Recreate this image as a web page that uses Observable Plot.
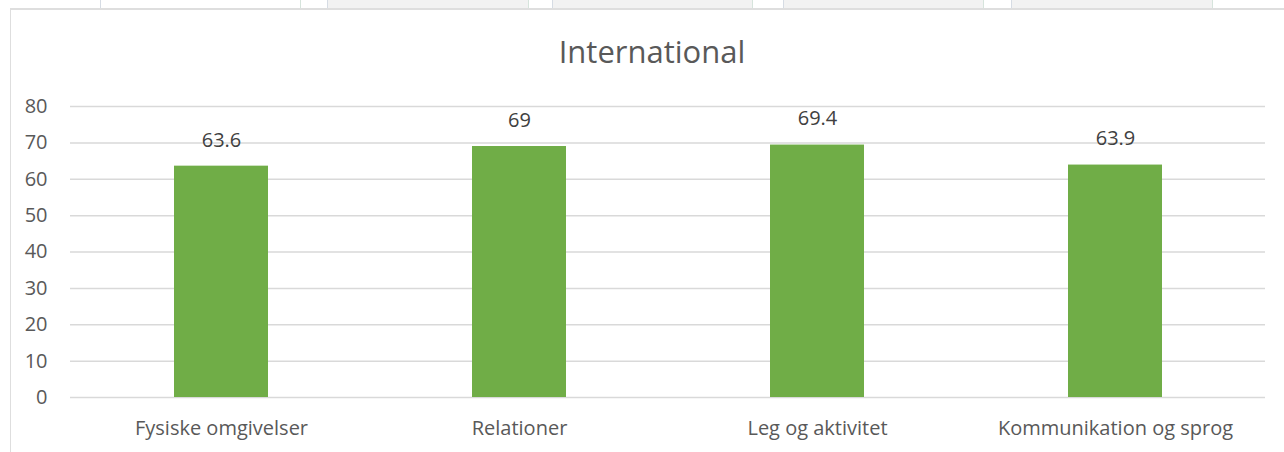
<!DOCTYPE html>
<html>
<head>
<meta charset="utf-8">
<script src="https://cdn.jsdelivr.net/npm/d3@7"></script>
<script src="https://cdn.jsdelivr.net/npm/@observablehq/plot@0.6"></script>
<style>
  html, body { margin: 0; padding: 0; background: #fff; }
  body { width: 1284px; height: 452px; position: relative; overflow: hidden; font-family: "Open Sans", sans-serif; }
  .tab { position: absolute; top: 0; height: 8px; box-sizing: border-box; border-left: 1.5px solid #d6dce4; border-right: 1.5px solid #d6e4dc; }
  .frame { position: absolute; left: 10px; top: 8px; right: 0; bottom: 0; border-left: 1.5px solid #dedede; border-top: 2px solid #dedede; }
  #title { position: absolute; left: 0; top: 29px; width: 1304px; text-align: center; font-size: 31px; line-height: 44px; color: #595959; }
  #chart { position: absolute; left: 0; top: 90px; }
</style>
</head>
<body>
<div class="tab" style="left:100px;width:201px;background:#fff;"></div>
<div class="tab" style="left:327px;width:202px;background:#f2f2f2;"></div>
<div class="tab" style="left:552px;width:201px;background:#f2f2f2;"></div>
<div class="tab" style="left:783px;width:201px;background:#f2f2f2;"></div>
<div class="tab" style="left:1011px;width:202px;background:#f2f2f2;"></div>
<div class="frame"></div>
<div id="title">International</div>
<div id="chart"></div>
<script>
const categories = ["Fysiske omgivelser", "Relationer", "Leg og aktivitet", "Kommunikation og sprog"];
const values = [63.6, 69, 69.4, 63.9];
const yTicks = [0, 10, 20, 30, 40, 50, 60, 70, 80];

const data = categories.map((c, i) => ({category: c, value: values[i]}));

const chart = Plot.plot({
  width: 1284,
  height: 362,
  marginTop: 16,
  marginBottom: 55,
  marginLeft: 70,
  marginRight: 19,
  style: {fontFamily: "Open Sans, sans-serif", fontSize: "20px", color: "#595959", background: "transparent"},
  x: {domain: categories, paddingInner: 0.685, paddingOuter: 0.3425, label: null},
  y: {domain: [0, 80], label: null},
  marks: [
    Plot.gridY(yTicks, {stroke: "#d9d9d9", strokeOpacity: 1, strokeWidth: 1.5}),
    Plot.barY(data, {x: "category", y: "value", fill: "#70AD47"}),
    Plot.text(data, {x: "category", y: "value", text: d => String(d.value), dy: -26, fill: "#404040", fontSize: 20}),
    Plot.axisY({ticks: yTicks, tickSize: 0, tickPadding: 23, label: null, fill: "#595959"}),
    Plot.axisX({tickSize: 0, tickPadding: 23, label: null, fill: "#595959"})
  ]
});
document.getElementById("chart").appendChild(chart);
</script>
</body>
</html>
